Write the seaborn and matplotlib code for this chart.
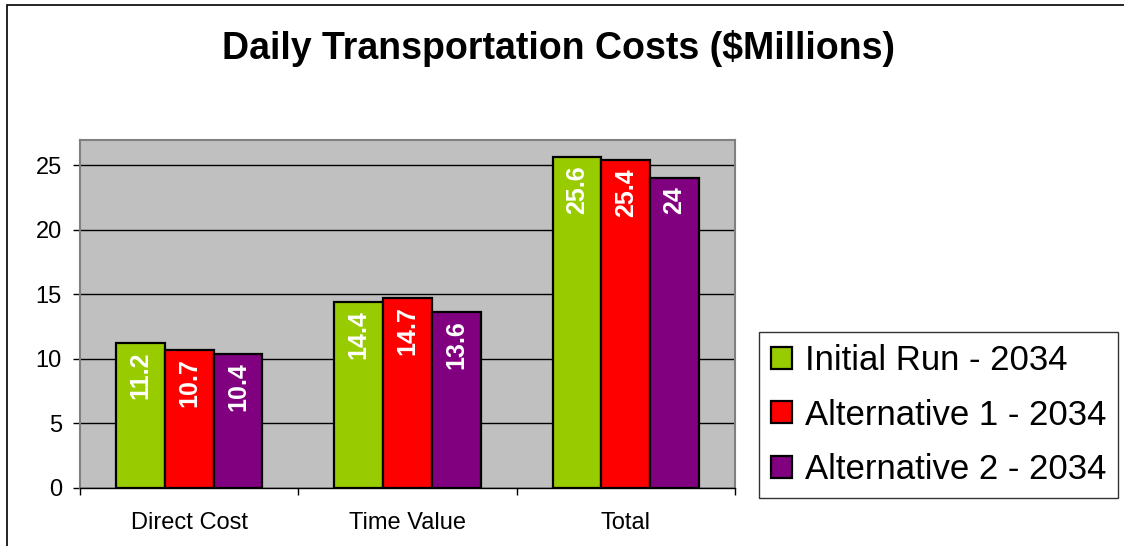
import pandas as pd
import matplotlib.pyplot as plt
import matplotlib.patches as mpatches
import seaborn as sns

# chart data
categories = ["Direct Cost", "Time Value", "Total"]
series = ["Initial Run - 2034", "Alternative 1 - 2034", "Alternative 2 - 2034"]
initial_run = [11.2, 14.4, 25.6]
alternative_1 = [10.7, 14.7, 25.4]
alternative_2 = [10.4, 13.6, 24]
colors = ["#99CC00", "#FF0000", "#800080"]

df = pd.DataFrame({
    "category": categories * 3,
    "series": [series[0]] * 3 + [series[1]] * 3 + [series[2]] * 3,
    "cost": initial_run + alternative_1 + alternative_2,
})

sns.set_style("white")
plt.rcParams["font.family"] = ["Liberation Sans", "DejaVu Sans"]
plt.rcParams["text.color"] = "black"
plt.rcParams["xtick.color"] = "black"
plt.rcParams["ytick.color"] = "black"

fig = plt.figure(figsize=(11.24, 5.46), dpi=100)
ax = fig.add_axes([80 / 1124, 1 - 488 / 546, 655 / 1124, 348 / 546])
ax.set_facecolor("#C0C0C0")

sns.barplot(data=df, x="category", y="cost", hue="series", palette=colors,
            width=0.67, edgecolor="black", linewidth=1.6, saturation=1,
            ax=ax)

# value labels inside the bars
for cont in ax.containers:
    for bar in cont.patches:
        h = bar.get_height()
        ax.annotate(f"{h:g}", (bar.get_x() + bar.get_width() / 2, h),
                    xytext=(0, -6), textcoords="offset points",
                    ha="center", va="top", rotation=90,
                    color="white", fontweight="bold", fontsize=18)

ax.set_ylim(0, 26.94)
ax.set_xlim(-0.5, 2.5)
ax.set_yticks([0, 5, 10, 15, 20, 25])
ax.yaxis.grid(True, color="black", linewidth=1)
ax.set_axisbelow(True)
ax.set_xlabel("")
ax.set_ylabel("")

ax.tick_params(axis="y", left=True, length=5, width=1, color="black",
               pad=8, labelsize=17, labelcolor="black")
ax.tick_params(axis="x", bottom=False, length=0, pad=17, labelsize=17,
               labelcolor="black")
ax.set_xticks([-0.5, 0.5, 1.5, 2.5], minor=True)
ax.tick_params(axis="x", which="minor", bottom=True, length=5, width=1,
               color="black")

for side in ["top", "right", "left"]:
    ax.spines[side].set_color("#808080")
    ax.spines[side].set_linewidth(1.5)
ax.spines["bottom"].set_color("black")
ax.spines["bottom"].set_linewidth(1)

fig.suptitle("Daily Transportation Costs ($Millions)", x=558 / 1124,
             y=1 - 30 / 546, va="top", fontsize=27, fontweight="bold",
             color="black")

handles = ax.containers
ax.get_legend().remove()
leg = fig.legend(handles, series, loc="upper left",
                 bbox_to_anchor=(759 / 1124, 1 - 332 / 546),
                 fontsize=25, frameon=True, fancybox=False, shadow=False,
                 handlelength=0.6, handleheight=0.6, handletextpad=0.37,
                 labelspacing=0.62, borderpad=0.35, borderaxespad=0)
leg.get_frame().set_edgecolor("black")
leg.get_frame().set_linewidth(1)
for t in leg.get_texts():
    t.set_color("black")

# outer chart border
fig.add_artist(mpatches.Rectangle((7 / 1124, -0.1), 1.2, 1.1 - 4.5 / 546,
                                  transform=fig.transFigure, fill=False,
                                  edgecolor="black", linewidth=1.2))

fig.savefig("out.png", dpi=100)
